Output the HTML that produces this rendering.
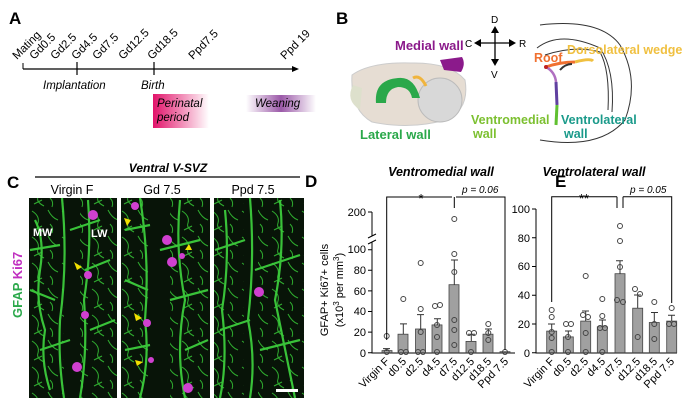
<!DOCTYPE html>
<html><head><meta charset="utf-8"><style>
html,body{margin:0;padding:0;background:#fff}
svg{display:block;font-family:"Liberation Sans",sans-serif}
.it{font-style:italic}
</style></head><body>
<svg width="690" height="405" viewBox="0 0 690 405" xmlns="http://www.w3.org/2000/svg">
<defs>
<linearGradient id="pk" x1="0" x2="1"><stop offset="0" stop-color="#e2136a"/><stop offset="1" stop-color="#fff"/></linearGradient>
<linearGradient id="pu" x1="0" x2="1"><stop offset="0" stop-color="#fff"/><stop offset="0.5" stop-color="#9b59a8"/><stop offset="1" stop-color="#fff"/></linearGradient>
<pattern id="fib" width="30" height="26" patternUnits="userSpaceOnUse">
<path d="M2,3 Q10,8 8,15 Q6,20 14,24 M18,2 Q22,10 28,12 M4,22 L12,18 M20,16 Q24,20 22,25" stroke="#2fae2f" stroke-width="1" fill="none"/>
</pattern>
</defs>
<!-- Panel A -->
<text x="9" y="24" font-size="17" font-weight="bold">A</text>
<line x1="23" y1="69" x2="295" y2="69" stroke="#000" stroke-width="1.2"/>
<polygon points="299,69 292,66 292,72" fill="#000"/>
<line x1="23" y1="63" x2="23" y2="69" stroke="#000"/>
<line x1="77" y1="62" x2="77" y2="75" stroke="#000" stroke-width="1.2"/>
<line x1="154" y1="62" x2="154" y2="75" stroke="#000" stroke-width="1.2"/>
<g font-size="11.5">
<text transform="translate(17,60) rotate(-45)">Mating</text>
<text transform="translate(34,60) rotate(-45)">Gd0.5</text>
<text transform="translate(55,60) rotate(-45)">Gd2.5</text>
<text transform="translate(76,60) rotate(-45)">Gd4.5</text>
<text transform="translate(97,60) rotate(-45)">Gd7.5</text>
<text transform="translate(123,60) rotate(-45)">Gd12.5</text>
<text transform="translate(152,60) rotate(-45)">Gd18.5</text>
<text transform="translate(193,60) rotate(-45)">Ppd7.5</text>
<text transform="translate(285,60) rotate(-45)">Ppd 19</text>
</g>
<text x="43" y="89" font-size="11.5" class="it">Implantation</text>
<text x="141" y="89" font-size="11.5" class="it">Birth</text>
<rect x="153" y="94" width="56" height="34" fill="url(#pk)"/>
<text x="157" y="107" font-size="11.5" class="it">Perinatal</text>
<text x="157" y="121" font-size="11.5" class="it">period</text>
<rect x="246" y="95" width="70" height="17" fill="url(#pu)"/>
<text x="255" y="107" font-size="11.5" class="it">Weaning</text>

<!-- Panel B -->
<text x="336" y="24" font-size="17" font-weight="bold">B</text>
<path d="M352,75 Q370,62 410,63 Q450,62 465,80 Q470,110 445,120 Q410,130 372,122 Q350,110 352,75Z" fill="#e6ddd3" stroke="#ccc"/>
<ellipse cx="440" cy="100" rx="22" ry="22" fill="#d8d8d8" stroke="#bbb"/>
<path d="M353,85 Q345,100 360,110 L362,88Z" fill="#dde0cc"/>
<path d="M376,103 Q374,80 398,78 Q414,76 420,98 L412,98 Q410,87 398,87 Q386,89 386,103Z" fill="#2aa84a"/>
<path d="M413,78 Q420,74 426,86" stroke="#f0b43c" stroke-width="3" fill="none"/>
<path d="M440,60 L462,57 Q466,64 461,72 L444,70Z" fill="#8b1a8b"/>
<text x="395" y="50" font-size="13" font-weight="bold" fill="#8b1a8b">Medial wall</text>
<text x="360" y="139" font-size="13" font-weight="bold" fill="#2aa84a">Lateral wall</text>
<g stroke="#000" stroke-width="1.3">
<line x1="495" y1="30" x2="495" y2="62"/><line x1="478" y1="43" x2="512" y2="43"/></g>
<g fill="#000"><polygon points="495,26 491,33 499,33"/><polygon points="495,66 491,59 499,59"/><polygon points="474,43 481,39 481,47"/><polygon points="516,43 509,39 509,47"/></g>
<g font-size="10"><text x="491" y="23">D</text><text x="491" y="78">V</text><text x="465" y="47">C</text><text x="519" y="47">R</text></g>
<path d="M540,25 Q600,18 620,45 Q640,80 625,120 Q600,150 540,140" fill="none" stroke="#333"/>
<path d="M537,48 Q560,30 600,48 Q615,70 612,112" fill="none" stroke="#333"/>
<path d="M545,55 Q575,45 600,52 Q610,70 608,110" fill="none" stroke="#333"/>
<path d="M546,67 Q560,62 575,62" stroke="#f07030" stroke-width="3" fill="none"/>
<path d="M575,62 Q590,58 593,61" stroke="#f0c040" stroke-width="3" fill="none"/>
<path d="M546,67 Q555,72 556,82" stroke="#b070c0" stroke-width="2.5" fill="none"/>
<path d="M556,82 L557,105" stroke="#6040a0" stroke-width="3" fill="none"/>
<path d="M557,105 L556,125" stroke="#60c030" stroke-width="3" fill="none"/>
<path d="M560,70 Q565,64 572,64" stroke="#333" stroke-width="2" fill="none"/>
<circle cx="546" cy="67" r="2" fill="#c02020"/>
<text x="534" y="62" font-size="12.5" font-weight="bold" fill="#f07030">Roof</text>
<text x="567" y="54" font-size="12.5" font-weight="bold" fill="#f0c040">Dorsolateral wedge</text>
<text x="471" y="124" font-size="12.5" font-weight="bold" fill="#7cc030">Ventromedial</text>
<text x="473" y="138" font-size="12.5" font-weight="bold" fill="#7cc030">wall</text>
<text x="561" y="124" font-size="12.5" font-weight="bold" fill="#1a9a8a">Ventrolateral</text>
<text x="564" y="138" font-size="12.5" font-weight="bold" fill="#1a9a8a">wall</text>

<!-- Panel C -->
<text x="7" y="188" font-size="17" font-weight="bold">C</text>
<text x="168" y="172" font-size="12" font-weight="bold" class="it" text-anchor="middle">Ventral V-SVZ</text>
<line x1="35" y1="177" x2="300" y2="177" stroke="#000" stroke-width="1.2"/>
<g font-size="12.5" text-anchor="middle"><text x="72" y="194">Virgin F</text><text x="162" y="194">Gd 7.5</text><text x="253" y="194">Ppd 7.5</text></g>
<rect x="29" y="198" width="88" height="200" fill="#081408"/>
<rect x="121" y="198" width="89" height="200" fill="#081408"/>
<rect x="214" y="198" width="90" height="200" fill="#081408"/>
<rect x="29" y="198" width="35" height="200" fill="url(#fib)"/>
<rect x="80" y="198" width="37" height="200" fill="url(#fib)"/>
<rect x="121" y="198" width="30" height="200" fill="url(#fib)"/>
<rect x="170" y="198" width="40" height="200" fill="url(#fib)"/>
<rect x="214" y="198" width="30" height="200" fill="url(#fib)"/>
<rect x="258" y="198" width="46" height="200" fill="url(#fib)"/>
<g stroke="#3ccc3c" stroke-width="2.2" fill="none" opacity="0.95">
<path d="M62,198 Q68,260 60,320 Q58,360 64,398"/><path d="M35,220 Q45,240 40,270 Q35,300 45,330 Q40,360 50,390"/>
<path d="M88,200 Q92,250 84,300 Q88,350 80,398"/><path d="M30,250 L60,245 M30,290 L55,300 M40,350 L70,340 M70,230 L100,220 M85,270 L110,260 M90,330 L115,320"/>
<path d="M140,198 Q150,260 145,320 Q150,360 140,398"/><path d="M180,200 Q175,250 185,300 Q175,350 185,398"/>
<path d="M125,230 L150,225 M125,280 L148,290 M160,250 L200,240 M170,300 L208,290 M125,350 L150,345 M185,350 L208,340"/>
<path d="M250,198 Q255,260 248,320 Q256,360 250,398"/><path d="M225,210 Q230,260 222,310 Q228,360 220,398"/>
<path d="M280,200 Q285,250 275,300 Q285,350 295,398"/><path d="M215,250 L245,240 M255,270 L300,255 M220,330 L250,320 M260,350 L300,340"/>
</g>
<g fill="#d040d0"><circle cx="93" cy="215" r="5"/><circle cx="88" cy="275" r="4"/><circle cx="85" cy="315" r="4"/><circle cx="77" cy="367" r="5"/>
<circle cx="135" cy="206" r="4"/><circle cx="167" cy="240" r="5"/><circle cx="172" cy="262" r="5"/><circle cx="182" cy="256" r="3"/><circle cx="147" cy="323" r="4"/><circle cx="151" cy="360" r="3"/><circle cx="188" cy="388" r="5"/><circle cx="259" cy="292" r="5"/></g>
<g fill="#f0e000"><polygon points="74,262 82,267 77,270"/><polygon points="124,218 131,220 127,226"/><polygon points="189,244 192,250 185,250"/><polygon points="134,313 142,318 136,321"/><polygon points="135,360 143,362 137,366"/></g>
<text x="33" y="236" font-size="11" font-weight="bold" fill="#fff">MW</text>
<text x="91" y="237" font-size="11" font-weight="bold" fill="#fff">LW</text>
<rect x="276" y="389" width="22" height="3" fill="#fff"/>
<text transform="translate(22,318) rotate(-90)" font-size="13" font-weight="bold"><tspan fill="#2aa84a">GFAP </tspan><tspan fill="#c030c0">Ki67</tspan></text>

<!-- Panel D -->
<text x="305" y="187" font-size="17" font-weight="bold">D</text>
<text x="441" y="176" font-size="12.5" font-weight="bold" class="it" text-anchor="middle">Ventromedial wall</text>
<text transform="translate(328,290) rotate(-90)" font-size="11" text-anchor="middle">GFAP+ Ki67+ cells</text>
<text transform="translate(343,290) rotate(-90)" font-size="11" text-anchor="middle">(x10<tspan font-size="8" dy="-4">3</tspan><tspan dy="4"> per mm</tspan><tspan font-size="8" dy="-4">3</tspan><tspan dy="4">)</tspan></text>
<g stroke="#000" stroke-width="1" fill="none">
<path d="M372,212 L372,236 M372,242 L372,353 L515,353"/>
<path d="M368,238 L376,234 M368,244 L376,240"/>
<path d="M368,212 H372 M368,249.7 H372 M368,270.3 H372 M368,290.9 H372 M368,311.5 H372 M368,332.1 H372 M368,352.7 H372"/>
</g>
<g font-size="11" text-anchor="end"><text x="366" y="216">200</text><text x="366" y="253">100</text><text x="366" y="274">80</text><text x="366" y="295">60</text><text x="366" y="315">40</text><text x="366" y="336">20</text><text x="366" y="357">0</text></g>
<g fill="#a0a0a0" stroke="#444" stroke-width="0.8">
<rect x="382" y="350.6" width="10" height="2.1"/><rect x="398" y="334.2" width="10" height="18.5"/><rect x="415.5" y="329" width="10" height="23.7"/><rect x="432" y="324.9" width="10" height="27.8"/><rect x="449" y="284.7" width="10" height="68"/><rect x="466" y="341.4" width="10" height="11.3"/><rect x="483" y="334.2" width="10" height="18.5"/><rect x="500" y="351.7" width="10" height="1"/></g>
<g stroke="#333" fill="none"><path d="M386.7,348.6V351 M403.3,323.9V334 M420.7,314.6V329 M437.3,318.7V325 M454.3,260V285 M471.3,334.2V341 M488.3,329V334 M383,348.6h7 M400,323.9h7 M417,314.6h7 M434,318.7h7 M451,260h7 M468,334.2h7 M485,329h7"/></g>
<g fill="none" stroke="#444" stroke-width="1">
<circle cx="386.7" cy="336" r="2.5"/><circle cx="386.7" cy="352" r="2.5"/><circle cx="403.3" cy="299" r="2.5"/><circle cx="401" cy="352" r="2.5"/><circle cx="406" cy="352" r="2.5"/>
<circle cx="420.7" cy="263" r="2.5"/><circle cx="420.7" cy="309" r="2.5"/><circle cx="420.7" cy="332" r="2.5"/><circle cx="418" cy="352" r="2.5"/><circle cx="423" cy="352" r="2.5"/>
<circle cx="435" cy="306" r="2.5"/><circle cx="440" cy="305" r="2.5"/><circle cx="437" cy="325" r="2.5"/><circle cx="437" cy="337" r="2.5"/><circle cx="437" cy="352" r="2.5"/>
<circle cx="454.3" cy="219" r="2.5"/><circle cx="454.3" cy="254" r="2.5"/><circle cx="454.3" cy="272" r="2.5"/><circle cx="454.3" cy="320" r="2.5"/><circle cx="454.3" cy="330" r="2.5"/><circle cx="454.3" cy="345" r="2.5"/>
<circle cx="469" cy="333" r="2.5"/><circle cx="474" cy="333" r="2.5"/><circle cx="471" cy="352" r="2.5"/>
<circle cx="488.3" cy="324" r="2.5"/><circle cx="488.3" cy="333" r="2.5"/><circle cx="488.3" cy="340" r="2.5"/><circle cx="505" cy="352" r="2.5"/></g>
<path d="M386.7,340V197H452 M456,197H505V350 M454.3,197V208" stroke="#000" fill="none"/>
<text x="421" y="203" font-size="13" text-anchor="middle">*</text>
<text x="462" y="193" font-size="10" class="it">p = 0.06</text>
<g font-size="11" text-anchor="end">
<text transform="translate(390,362) rotate(-45)">Virgin F</text><text transform="translate(407,362) rotate(-45)">d0.5</text><text transform="translate(424,362) rotate(-45)">d2.5</text><text transform="translate(441,362) rotate(-45)">d4.5</text><text transform="translate(458,362) rotate(-45)">d7.5</text><text transform="translate(475,362) rotate(-45)">d12.5</text><text transform="translate(492,362) rotate(-45)">d18.5</text><text transform="translate(509,362) rotate(-45)">Ppd 7.5</text></g>

<!-- Panel E -->
<text x="555" y="187" font-size="17" font-weight="bold">E</text>
<text x="594" y="176" font-size="12.5" font-weight="bold" class="it" text-anchor="middle">Ventrolateral wall</text>
<g stroke="#000" stroke-width="1" fill="none">
<path d="M536,209 L536,353 L677,353"/>
<path d="M532,209H536 M532,237.7H536 M532,266.5H536 M532,295.2H536 M532,324H536 M532,352.7H536"/></g>
<g font-size="11" text-anchor="end"><text x="530" y="213">100</text><text x="530" y="242">80</text><text x="530" y="270">60</text><text x="530" y="299">40</text><text x="530" y="328">20</text><text x="530" y="357">0</text></g>
<g fill="#a0a0a0" stroke="#444" stroke-width="0.8">
<rect x="546.7" y="331.1" width="10" height="21.6"/><rect x="563.3" y="336.9" width="10" height="15.8"/><rect x="580.7" y="321.1" width="10" height="31.6"/><rect x="597.3" y="326.8" width="10" height="25.9"/><rect x="615" y="273.7" width="10" height="79"/><rect x="632.7" y="308.2" width="10" height="44.5"/><rect x="649.3" y="322.5" width="10" height="30.2"/><rect x="666.7" y="321.1" width="10" height="31.6"/></g>
<g stroke="#333" fill="none"><path d="M551.7,324V331 M568.3,331V337 M585.7,311V321 M602.3,320V327 M620,260.7V274 M637.7,295V308 M654.3,312.5V322 M671.7,315.3V321 M548,324h7 M565,331h7 M582,311h7 M599,320h7 M616,260.7h7 M634,295h7 M651,312.5h7 M668,315.3h7"/></g>
<g fill="none" stroke="#444" stroke-width="1">
<circle cx="551.7" cy="310" r="2.5"/><circle cx="551.7" cy="317" r="2.5"/><circle cx="551.7" cy="332" r="2.5"/><circle cx="551.7" cy="338" r="2.5"/><circle cx="551.7" cy="352" r="2.5"/>
<circle cx="566" cy="324" r="2.5"/><circle cx="571" cy="324" r="2.5"/><circle cx="568" cy="337" r="2.5"/><circle cx="568" cy="352" r="2.5"/>
<circle cx="585.7" cy="276" r="2.5"/><circle cx="583" cy="315" r="2.5"/><circle cx="588" cy="317" r="2.5"/><circle cx="585.7" cy="333" r="2.5"/><circle cx="585.7" cy="352" r="2.5"/>
<circle cx="602.3" cy="299" r="2.5"/><circle cx="602.3" cy="316" r="2.5"/><circle cx="600" cy="328" r="2.5"/><circle cx="605" cy="328" r="2.5"/><circle cx="602.3" cy="352" r="2.5"/>
<circle cx="620" cy="226" r="2.5"/><circle cx="620" cy="241" r="2.5"/><circle cx="620" cy="267" r="2.5"/><circle cx="617" cy="300" r="2.5"/><circle cx="623" cy="302" r="2.5"/>
<circle cx="635" cy="289" r="2.5"/><circle cx="640" cy="294" r="2.5"/><circle cx="637.7" cy="337" r="2.5"/>
<circle cx="654.3" cy="302" r="2.5"/><circle cx="654.3" cy="324" r="2.5"/><circle cx="654.3" cy="339" r="2.5"/>
<circle cx="671.7" cy="308" r="2.5"/><circle cx="669" cy="324" r="2.5"/><circle cx="674" cy="324" r="2.5"/></g>
<path d="M551.7,302V196.7H617 M623,196.7H671.7V303 M617,196.7V208 M623,196.7V208" stroke="#000" fill="none"/>
<text x="584" y="203" font-size="13" text-anchor="middle">**</text>
<text x="630" y="193" font-size="10" class="it">p = 0.05</text>
<g font-size="11" text-anchor="end">
<text transform="translate(555,362) rotate(-45)">Virgin F</text><text transform="translate(572,362) rotate(-45)">d0.5</text><text transform="translate(589,362) rotate(-45)">d2.5</text><text transform="translate(606,362) rotate(-45)">d4.5</text><text transform="translate(623,362) rotate(-45)">d7.5</text><text transform="translate(641,362) rotate(-45)">d12.5</text><text transform="translate(658,362) rotate(-45)">d18.5</text><text transform="translate(675,362) rotate(-45)">Ppd 7.5</text></g>
</svg>
</body></html>
